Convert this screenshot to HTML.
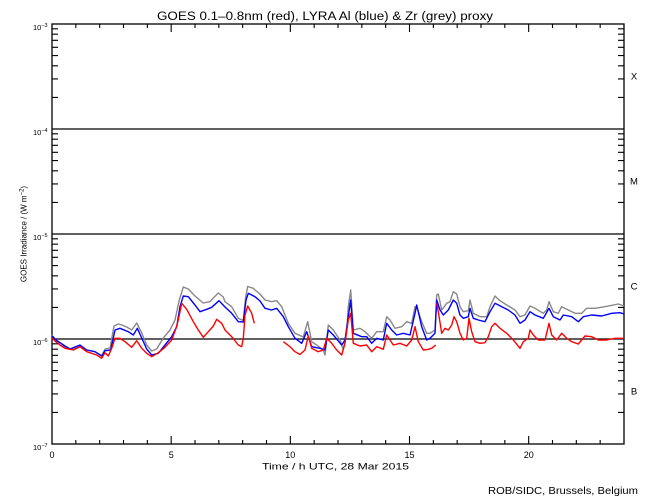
<!DOCTYPE html>
<html><head><meta charset="utf-8"><style>
html,body{margin:0;padding:0;background:#fff;}
svg{display:block;}
text{font-family:"Liberation Sans",sans-serif;fill:#000;}
</style></head><body>
<svg width="650" height="500" viewBox="0 0 650 500" xmlns="http://www.w3.org/2000/svg">
<rect width="650" height="500" fill="#fff"/>
<text x="157" y="20" font-size="11.5" textLength="336" lengthAdjust="spacingAndGlyphs">GOES 0.1–0.8nm (red), LYRA Al (blue) &amp; Zr (grey) proxy</text>

<!-- decade lines -->
<g stroke="#000" stroke-width="1.3" fill="none">
<line x1="52" y1="129" x2="624" y2="129"/>
<line x1="52" y1="234" x2="624" y2="234"/>
<line x1="52" y1="339" x2="624" y2="339"/>
<rect x="52" y="24" width="572" height="420"/>
</g>

<!-- y minor ticks -->
<g stroke="#000" stroke-width="1.1">
<path d="M52 97.4h6M52 78.9h6M52 65.8h6M52 55.6h6M52 47.3h6M52 40.3h6M52 34.2h6M52 28.8h6
M52 202.4h6M52 183.9h6M52 170.8h6M52 160.6h6M52 152.3h6M52 145.3h6M52 139.2h6M52 133.8h6
M52 307.4h6M52 288.9h6M52 275.8h6M52 265.6h6M52 257.3h6M52 250.3h6M52 244.2h6M52 238.8h6
M52 412.4h6M52 393.9h6M52 380.8h6M52 370.6h6M52 362.3h6M52 355.3h6M52 349.2h6M52 343.8h6
M624 97.4h-6M624 78.9h-6M624 65.8h-6M624 55.6h-6M624 47.3h-6M624 40.3h-6M624 34.2h-6M624 28.8h-6
M624 202.4h-6M624 183.9h-6M624 170.8h-6M624 160.6h-6M624 152.3h-6M624 145.3h-6M624 139.2h-6M624 133.8h-6
M624 307.4h-6M624 288.9h-6M624 275.8h-6M624 265.6h-6M624 257.3h-6M624 250.3h-6M624 244.2h-6M624 238.8h-6
M624 412.4h-6M624 393.9h-6M624 380.8h-6M624 370.6h-6M624 362.3h-6M624 355.3h-6M624 349.2h-6M624 343.8h-6"/>
<!-- x ticks -->
<path d="M75.83 444v-4M99.67 444v-4M123.5 444v-4M147.33 444v-4M171.17 444v-8M195 444v-4M218.83 444v-4M242.67 444v-4M266.5 444v-4M290.33 444v-8M314.17 444v-4M338 444v-4M361.83 444v-4M385.67 444v-4M409.5 444v-8M433.33 444v-4M457.17 444v-4M481 444v-4M504.83 444v-4M528.67 444v-8M552.5 444v-4M576.33 444v-4M600.17 444v-4
M75.83 24v4M99.67 24v4M123.5 24v4M147.33 24v4M171.17 24v8M195 24v4M218.83 24v4M242.67 24v4M266.5 24v4M290.33 24v8M314.17 24v4M338 24v4M361.83 24v4M385.67 24v4M409.5 24v8M433.33 24v4M457.17 24v4M481 24v4M504.83 24v4M528.67 24v8M552.5 24v4M576.33 24v4M600.17 24v4"/>
</g>

<!-- y tick labels -->
<g font-size="7.5">
<text x="33" y="30">10<tspan font-size="5.5" dy="-3">−3</tspan></text>
<text x="33" y="135">10<tspan font-size="5.5" dy="-3">−4</tspan></text>
<text x="33" y="240">10<tspan font-size="5.5" dy="-3">−5</tspan></text>
<text x="33" y="345">10<tspan font-size="5.5" dy="-3">−6</tspan></text>
<text x="33" y="450">10<tspan font-size="5.5" dy="-3">−7</tspan></text>
</g>
<text transform="translate(26.5,234) rotate(-90)" text-anchor="middle" font-size="8">GOES Irradiance / (W m<tspan font-size="6" dy="-3">−2</tspan><tspan dy="3">)</tspan></text>

<!-- x tick labels -->
<g font-size="9" text-anchor="middle">
<text x="52" y="458">0</text>
<text x="171.2" y="458">5</text>
<text x="290.3" y="458">10</text>
<text x="409.5" y="458">15</text>
<text x="528.7" y="458">20</text>
</g>
<text x="262" y="469.5" font-size="9.5" textLength="147" lengthAdjust="spacingAndGlyphs">Time / h UTC, 28 Mar 2015</text>
<text x="488" y="494" font-size="10" textLength="150" lengthAdjust="spacingAndGlyphs">ROB/SIDC, Brussels, Belgium</text>

<!-- class labels -->
<g font-size="9.5" text-anchor="middle">
<text x="634" y="79.5">X</text>
<text x="634" y="184.5">M</text>
<text x="634" y="289.5">C</text>
<text x="634" y="394.5">B</text>
</g>

<!-- series -->
<g fill="none" stroke-width="1.4" stroke-linejoin="round">
<polyline stroke="#888" points="52,335 56,340 60,345 65,347 70,349 75,348 80,346 86.7,350 95,351.7 101.7,356 105,349 110,348 114,326 118.3,324 122,325 126.7,327 131.7,330 136.7,323 141.7,333 146.7,345 151.7,351 156.7,349 163.3,338 170,330 175,320 179.3,300 183.3,287 188.3,289 195,296 203.3,303 210,301.7 213.3,298 218.3,293 223.3,297 225,301.7 231.7,306.7 238.3,318.3 241.7,320 243.3,320 245.7,296.7 247.7,286.5 253.3,288.3 255,290 260,294 265,300 271.7,301.7 276.7,300.7 281.7,306.7 288.3,323.3 295,333.3 303.3,337 307.7,321.7 311.7,341.7 316.7,345 323.3,350 325,355 328.3,325 333.3,330 340,340 343.3,350 346.7,330 348.3,306.7 350.7,290 353.3,330 360,328.3 365,331.7 371.7,338.3 376.7,331.7 383.3,331.7 386.7,316.7 390,320 395,328.3 401.7,326.7 406.7,321.7 411.7,323.3 415,306.7 416.7,306.7 421.7,321.7 426.7,333.3 430,333.3 435,330 436.7,295 438.3,294 441.7,310 446.7,303.3 450,301.7 453.3,291.7 456.7,294 460,306.7 463.3,311.7 468.3,310.7 470,300 473.3,313.3 480,316.7 486.7,316.7 490,306.7 495,296 500,300.7 506.7,305 515,310 520,316.7 525,315 530,306 535,308.3 543.3,313.3 546.7,310 549,301.7 553.3,311.7 558.3,313.3 561.7,306.7 568.3,310 575,313.3 581.7,313.3 586.7,308.3 595,308.3 605,306.7 618.3,304 624,306"/>
<polyline stroke="#0000ff" points="52,336 56,340 60,342.7 65,346 70,349 75,347 80,345 86.7,350 95,351.7 101.7,356 105,350.7 110.7,350 115,330 120,328.3 128.3,331.7 133.3,335 137.3,328.3 141.7,338 146.7,349 151.7,355 158.3,353.3 165,345 171.7,336.7 176.7,326.7 180,306.7 183.3,296 188.3,296.7 195,305 200,311.7 206.7,309.3 211.7,307.3 219,300.7 225,307 231.7,313.3 238.3,321.7 243.3,322 246,300 248.3,293.3 255,296.7 260,301 265,308.3 271.7,310 276.7,308.3 283.3,316.7 288.3,326.7 295,338.3 301.7,343.3 306.7,331.7 311.7,346.7 320,348.3 325,350 328.3,330 333.3,335 341.7,345 345,340 348.3,316.7 350.7,300 353.3,333.3 361.7,336.7 366.7,336.7 371.7,343.3 376.7,338.3 383.3,340 386.7,323.3 391.7,330 396.7,335 403.3,333.3 410,335 415,313.3 416.7,305 421.7,326.7 426.7,340 430,338.3 435,333.3 436.7,300 440,310 443.3,315 448.3,310 453.3,300 456.7,303.3 460,315 463.3,318.3 468.3,316.7 470,308.3 473.3,318.3 478.3,320 485,321.7 490,311.7 495,303.3 501.7,306.7 508.3,310 515,315 520,323.3 525,320 530,311.7 535,315 543.3,318.3 549,308.3 553.3,316.7 560,320 563.3,315 571.7,316.7 578.3,321.7 583.3,316.7 591.7,315 601.7,316 611.7,313.3 620,312.7 624,314"/>
<polyline stroke="#ff0000" points="52,338 56,342 60,345 65,348.3 73.3,350 80,346.7 86.7,351.7 96.7,355 101.7,358.3 105,352.7 108.3,356 111.7,348.3 115,338.3 120,338.3 125,341.7 131.7,347.3 136.7,340.7 141.7,348.3 146.7,353.3 151.7,356.7 158.3,352.7 165,347.3 171.7,340 176,328.3 178.3,320 181.7,303.3 186.7,309.3 193.3,321.7 198.3,330 203.3,337.3 208.3,331.7 213.3,326 216.7,319.3 221.7,323.3 225,330 231.7,336.7 238.3,345 241.7,346.7 243.3,338.3 245,315 247.7,306 251.7,313.3 254.3,323.3"/>
<polyline stroke="#ff0000" points="283.3,341.7 290,346.7 295,351.7 300,354.5 305,350 308.3,336 311.7,348.3 318.3,351.7 323.3,350 326.7,338.3 331.7,343.3 336.7,350 341.7,355 345,343.3 348.3,320 350.7,313.3 353.3,343.3 360,346 366.7,345 371.7,351.7 376.7,346.7 383.3,349.3 386.7,335 393.3,345 400,343.3 406.7,346 411.7,340 415,326.7 418.3,341.7 423.3,350 428.3,349.3 431.7,348.3 435.7,345"/>
<polyline stroke="#ff0000" points="436.7,303.3 438.3,311.7 441.7,333.3 445,328.3 448.3,330 451.7,325 454,316.7 456.7,321.7 460,333.3 463.3,340 466.7,338.3 469,318.3 471.7,331.7 475,341.7 480,343.3 485,342.7 488.3,336.7 491.7,326.7 495,323.3 500,328.3 506.7,333.3 513.3,340 520,348.3 523.3,341.7 528.3,338.3 530,330 533.3,335 538.3,340 545,340 549,323.3 551.7,335 556.7,340 561.7,333.3 566.7,338.3 571.7,341.7 578.3,344 585,336 591.7,336.7 598.3,340 606.7,340 615,338.3 624,338.3"/>
</g>
</svg>
</body></html>
